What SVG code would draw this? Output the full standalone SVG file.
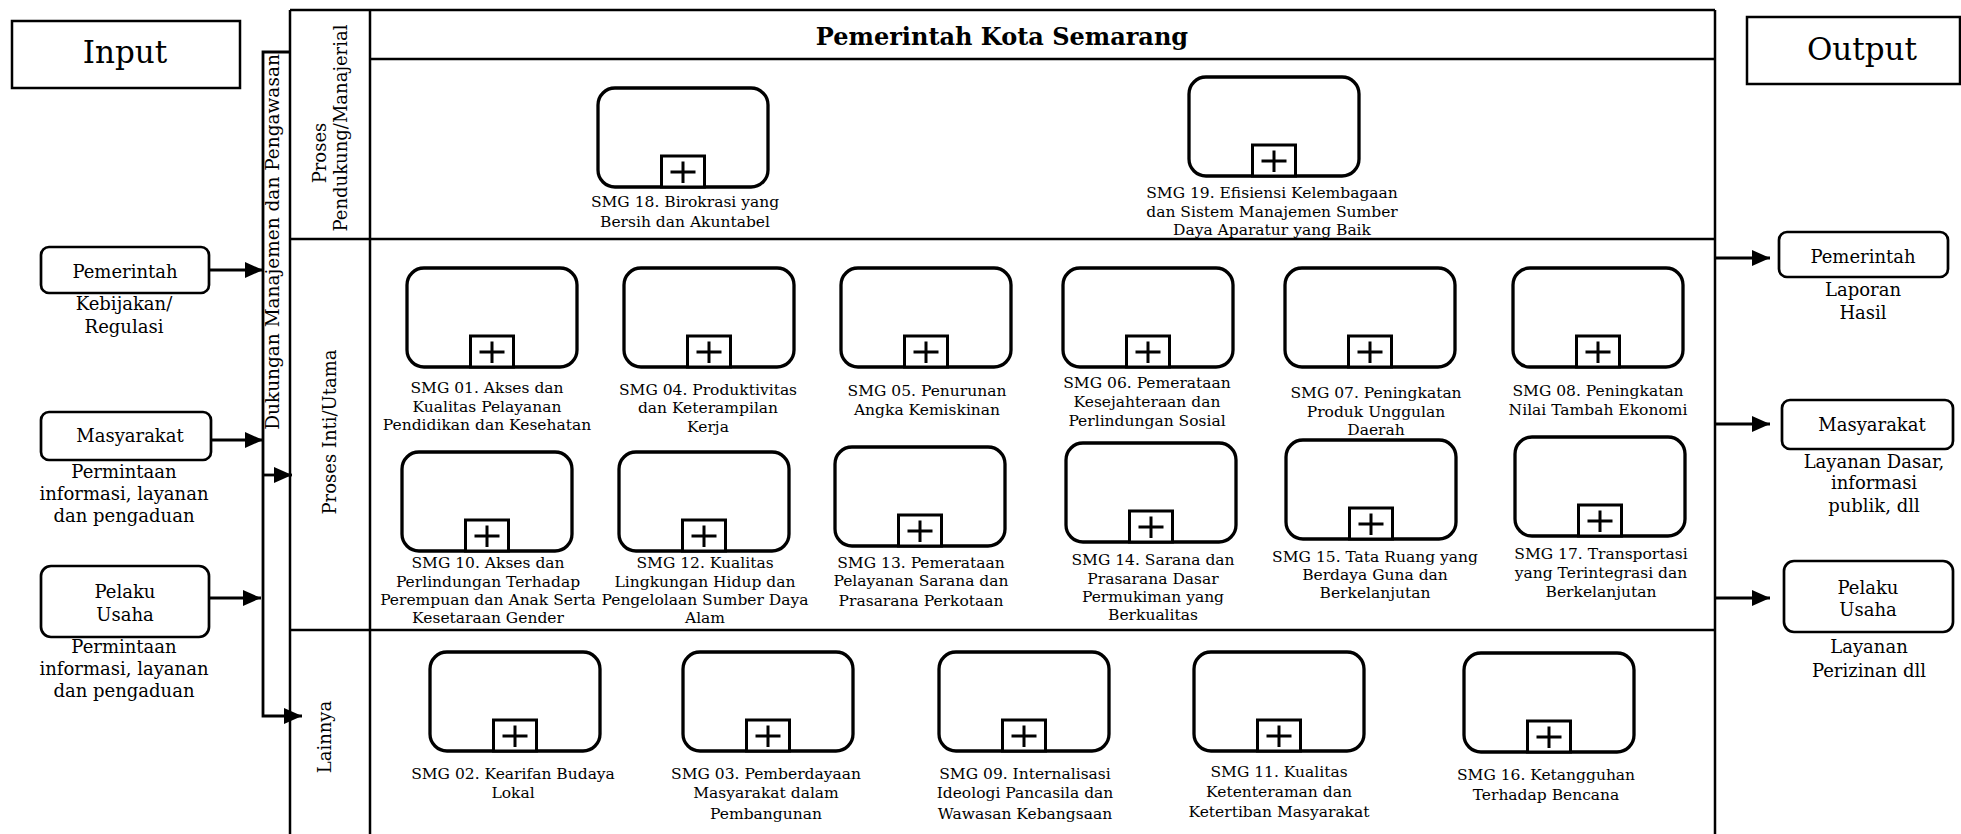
<svg xmlns="http://www.w3.org/2000/svg" xmlns:xlink="http://www.w3.org/1999/xlink" width="1961" height="834" viewBox="0 0 1961 834">
<style>
.frame{fill:none;stroke:#000;stroke-width:2.5}
.box{fill:#fff;stroke:#000;stroke-width:3.3}
.mk{fill:#fff;stroke:#000;stroke-width:3}
.plus{fill:none;stroke:#000;stroke-width:3}
.nb{fill:#fff;stroke:#000;stroke-width:2.7}
.conn{fill:none;stroke:#000;stroke-width:2.8}
.lbl{font-family:"DejaVu Serif","Liberation Serif",serif;font-size:15.5px;text-anchor:middle;fill:#000}
.io{font-family:"DejaVu Serif","Liberation Serif",serif;font-size:18px;text-anchor:middle;fill:#000}
.lane{font-family:"DejaVu Serif","Liberation Serif",serif;font-size:18px;text-anchor:middle;fill:#000}
.big{font-family:"DejaVu Serif","Liberation Serif",serif;font-size:31px;text-anchor:middle;fill:#000}
.head{font-family:"DejaVu Serif","Liberation Serif",serif;font-size:24px;font-weight:bold;text-anchor:middle;fill:#000}
</style>
<defs>
<marker id="arr" markerUnits="userSpaceOnUse" markerWidth="19" markerHeight="16" refX="18" refY="8" orient="auto" overflow="visible">
<path d="M0,0 L18,8 L0,16 z" fill="#000"/>
</marker>
<g id="sub">
<rect class="box" x="0" y="0" width="170" height="99" rx="17"/>
<rect class="mk" x="63.5" y="68" width="43" height="31"/>
<path class="plus" d="M72.5,84H97.5M85,73.5V95"/>
</g>
</defs>
<rect width="1961" height="834" fill="#fff"/>

<g id="frame">
<path class="frame" d="M290,10H1715M290,10V836M1715,10V836M370,10V836M370,59H1715M290,239H1715M290,630H1715"/>
<text class="head" x="1002" y="45">Pemerintah Kota Semarang</text>
<text class="lane" transform="translate(326,153) rotate(-90)">Proses</text>
<text class="lane" transform="translate(347,128) rotate(-90)">Pendukung/Manajerial</text>
<text class="lane" transform="translate(336,432) rotate(-90)">Proses Inti/Utama</text>
<text class="lane" transform="translate(331,737) rotate(-90)">Lainnya</text>
</g>

<g id="input">
<rect class="frame" x="12" y="21" width="228" height="67"/>
<text class="big" x="125" y="63">Input</text>
</g>
<g id="output">
<rect class="frame" x="1747" y="17" width="213" height="67"/>
<text class="big" x="1862" y="60">Output</text>
</g>

<g id="dukungan">
<text class="lane" style="font-size:18.5px" transform="translate(279,242) rotate(-90)">Dukungan Manajemen dan Pengawasan</text>
</g>

<g id="in-pemerintah">
<rect class="nb" x="41" y="247" width="168" height="46" rx="8"/>
<text class="io" x="125" y="278">Pemerintah</text>
<text class="io" x="124" y="310">Kebijakan/</text>
<text class="io" x="124" y="333">Regulasi</text>
</g>
<g id="in-masyarakat">
<rect class="nb" x="41" y="412" width="170" height="48" rx="8"/>
<text class="io" x="130" y="442">Masyarakat</text>
<text class="io" x="124" y="478">Permintaan</text>
<text class="io" x="124" y="500">informasi, layanan</text>
<text class="io" x="124" y="522">dan pengaduan</text>
</g>
<g id="in-pelaku">
<rect class="nb" x="41" y="566" width="168" height="71" rx="10"/>
<text class="io" x="125" y="598">Pelaku</text>
<text class="io" x="125" y="621">Usaha</text>
<text class="io" x="124" y="653">Permintaan</text>
<text class="io" x="124" y="675">informasi, layanan</text>
<text class="io" x="124" y="697">dan pengaduan</text>
</g>

<g id="out-pemerintah">
<rect class="nb" x="1779" y="232" width="169" height="45" rx="8"/>
<text class="io" x="1863" y="263">Pemerintah</text>
<text class="io" x="1863" y="296">Laporan</text>
<text class="io" x="1863" y="319">Hasil</text>
</g>
<g id="out-masyarakat">
<rect class="nb" x="1782" y="400" width="171" height="49" rx="8"/>
<text class="io" x="1872" y="431">Masyarakat</text>
<text class="io" x="1874" y="468">Layanan Dasar,</text>
<text class="io" x="1874" y="489">informasi</text>
<text class="io" x="1874" y="512">publik, dll</text>
</g>
<g id="out-pelaku">
<rect class="nb" x="1784" y="561" width="169" height="71" rx="10"/>
<text class="io" x="1868" y="594">Pelaku</text>
<text class="io" x="1868" y="616">Usaha</text>
<text class="io" x="1869" y="653">Layanan</text>
<text class="io" x="1869" y="677">Perizinan dll</text>
</g>

<g id="smg18"><use href="#sub" x="598" y="88"/>
<text class="lbl" x="685" y="207">SMG 18. Birokrasi yang</text>
<text class="lbl" x="685" y="227">Bersih dan Akuntabel</text></g>
<g id="smg19"><use href="#sub" x="1189" y="77"/>
<text class="lbl" x="1272" y="198">SMG 19. Efisiensi Kelembagaan</text>
<text class="lbl" x="1272" y="217">dan Sistem Manajemen Sumber</text>
<text class="lbl" x="1272" y="235">Daya Aparatur yang Baik</text></g>

<g id="smg01"><use href="#sub" x="407" y="268"/>
<text class="lbl" x="487" y="393">SMG 01. Akses dan</text>
<text class="lbl" x="487" y="412">Kualitas Pelayanan</text>
<text class="lbl" x="487" y="430">Pendidikan dan Kesehatan</text></g>
<g id="smg04"><use href="#sub" x="624" y="268"/>
<text class="lbl" x="708" y="395">SMG 04. Produktivitas</text>
<text class="lbl" x="708" y="413">dan Keterampilan</text>
<text class="lbl" x="708" y="432">Kerja</text></g>
<g id="smg05"><use href="#sub" x="841" y="268"/>
<text class="lbl" x="927" y="396">SMG 05. Penurunan</text>
<text class="lbl" x="927" y="415">Angka Kemiskinan</text></g>
<g id="smg06"><use href="#sub" x="1063" y="268"/>
<text class="lbl" x="1147" y="388">SMG 06. Pemerataan</text>
<text class="lbl" x="1147" y="407">Kesejahteraan dan</text>
<text class="lbl" x="1147" y="426">Perlindungan Sosial</text></g>
<g id="smg07"><use href="#sub" x="1285" y="268"/>
<text class="lbl" x="1376" y="398">SMG 07. Peningkatan</text>
<text class="lbl" x="1376" y="417">Produk Unggulan</text>
<text class="lbl" x="1376" y="435">Daerah</text></g>
<g id="smg08"><use href="#sub" x="1513" y="268"/>
<text class="lbl" x="1598" y="396">SMG 08. Peningkatan</text>
<text class="lbl" x="1598" y="415">Nilai Tambah Ekonomi</text></g>

<g id="smg10"><use href="#sub" x="402" y="452"/>
<text class="lbl" x="488" y="568">SMG 10. Akses dan</text>
<text class="lbl" x="488" y="587">Perlindungan Terhadap</text>
<text class="lbl" x="488" y="605">Perempuan dan Anak Serta</text>
<text class="lbl" x="488" y="623">Kesetaraan Gender</text></g>
<g id="smg12"><use href="#sub" x="619" y="452"/>
<text class="lbl" x="705" y="568">SMG 12. Kualitas</text>
<text class="lbl" x="705" y="587">Lingkungan Hidup dan</text>
<text class="lbl" x="705" y="605">Pengelolaan Sumber Daya</text>
<text class="lbl" x="705" y="623">Alam</text></g>
<g id="smg13"><use href="#sub" x="835" y="447"/>
<text class="lbl" x="921" y="568">SMG 13. Pemerataan</text>
<text class="lbl" x="921" y="586">Pelayanan Sarana dan</text>
<text class="lbl" x="921" y="606">Prasarana Perkotaan</text></g>
<g id="smg14"><use href="#sub" x="1066" y="443"/>
<text class="lbl" x="1153" y="565">SMG 14. Sarana dan</text>
<text class="lbl" x="1153" y="584">Prasarana Dasar</text>
<text class="lbl" x="1153" y="602">Permukiman yang</text>
<text class="lbl" x="1153" y="620">Berkualitas</text></g>
<g id="smg15"><use href="#sub" x="1286" y="440"/>
<text class="lbl" x="1375" y="562">SMG 15. Tata Ruang yang</text>
<text class="lbl" x="1375" y="580">Berdaya Guna dan</text>
<text class="lbl" x="1375" y="598">Berkelanjutan</text></g>
<g id="smg17"><use href="#sub" x="1515" y="437"/>
<text class="lbl" x="1601" y="559">SMG 17. Transportasi</text>
<text class="lbl" x="1601" y="578">yang Terintegrasi dan</text>
<text class="lbl" x="1601" y="597">Berkelanjutan</text></g>

<g id="smg02"><use href="#sub" x="430" y="652"/>
<text class="lbl" x="513" y="779">SMG 02. Kearifan Budaya</text>
<text class="lbl" x="513" y="798">Lokal</text></g>
<g id="smg03"><use href="#sub" x="683" y="652"/>
<text class="lbl" x="766" y="779">SMG 03. Pemberdayaan</text>
<text class="lbl" x="766" y="798">Masyarakat dalam</text>
<text class="lbl" x="766" y="819">Pembangunan</text></g>
<g id="smg09"><use href="#sub" x="939" y="652"/>
<text class="lbl" x="1025" y="779">SMG 09. Internalisasi</text>
<text class="lbl" x="1025" y="798">Ideologi Pancasila dan</text>
<text class="lbl" x="1025" y="819">Wawasan Kebangsaan</text></g>
<g id="smg11"><use href="#sub" x="1194" y="652"/>
<text class="lbl" x="1279" y="777">SMG 11. Kualitas</text>
<text class="lbl" x="1279" y="797">Ketenteraman dan</text>
<text class="lbl" x="1279" y="817">Ketertiban Masyarakat</text></g>
<g id="smg16"><use href="#sub" x="1464" y="653"/>
<text class="lbl" x="1546" y="780">SMG 16. Ketangguhan</text>
<text class="lbl" x="1546" y="800">Terhadap Bencana</text></g>

<g id="connectors">
<path class="conn" d="M209,270H263" marker-end="url(#arr)"/>
<path class="conn" d="M211,440H263" marker-end="url(#arr)"/>
<path class="conn" d="M209,598H261" marker-end="url(#arr)"/>
<path class="conn" d="M290,52H263V716H302" marker-end="url(#arr)"/>
<path class="conn" d="M263,475H292" marker-end="url(#arr)"/>
<path class="conn" d="M1715,258H1770" marker-end="url(#arr)"/>
<path class="conn" d="M1715,424H1770" marker-end="url(#arr)"/>
<path class="conn" d="M1715,598H1770" marker-end="url(#arr)"/>
</g>
</svg>
